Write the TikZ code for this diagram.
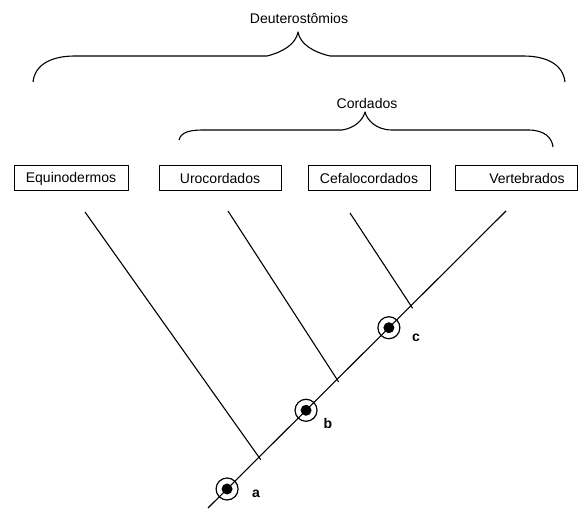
\documentclass[tikz,border=0pt]{standalone}
\usepackage{fontspec}
\setmainfont{Liberation Sans}
\usetikzlibrary{calc}
\begin{document}
\begin{tikzpicture}[x=1pt,y=-1pt,line width=1.1pt,
  taxon/.style={draw,line width=1pt,minimum height=25pt,inner sep=0pt,font=\fontsize{14}{16}\selectfont},
  lbl/.style={font=\fontsize{14}{16}\selectfont},
  tag/.style={font=\bfseries\fontsize{14}{16}\selectfont},
  brace/.style={line width=1.1pt,line join=round}]
\useasboundingbox (0,0) rectangle (578,510);
% taxa boxes
\node[taxon,minimum width=114pt] (equi) at (71,178.5) {Equinodermos};
\node[taxon,minimum width=122pt] (uro) at (220,178.5) {Urocordados};
\node[taxon,minimum width=122pt] (cefa) at (369,178.5) {Cefalocordados};
\node[taxon,minimum width=122pt] (vert) at (516,178.5) {\hspace*{22pt}Vertebrados};
% group labels
\node[lbl] (deut) at (299,18) {Deuterostômios};
\node[lbl] (cord) at (367,103) {Cordados};
% braces
\draw[brace] (33,82) .. controls (35,64) and (52,56) .. (75,56) -- (267,56)
  .. controls (283,52) and (296,44) .. (298,32)
  .. controls (300,44) and (313,52) .. (330,56) -- (523,56)
  .. controls (546,56) and (563,64) .. (565,82);
\draw[brace] (179,140) .. controls (181,132) and (190,130) .. (203,130) -- (342,130)
  .. controls (355,128) and (363,120) .. (365,112)
  .. controls (367,120) and (376,130) .. (392,130) -- (528,130)
  .. controls (545,130) and (552,138) .. (553,147);
% tree
\coordinate (root) at (208,508);
\coordinate (top) at (506,211);
\draw (root) -- (top);
\coordinate (j1) at ($(root)!0.171!(top)$);
\coordinate (j2) at ($(root)!0.433!(top)$);
\coordinate (j3) at ($(root)!0.681!(top)$);
\coordinate (t1) at (85,212);
\coordinate (t2) at (228,211);
\coordinate (t3) at (350,213);
\draw[shorten >=-3pt] (t1) -- (j1);
\draw[shorten >=-3pt] (t2) -- (j2);
\draw[shorten >=-3pt] (t3) -- (j3);
% synapomorphy marks
\foreach \n/\p in {a/0.064,b/0.329,c/0.607}{
  \coordinate (m\n) at ($(root)!\p!(top)$);
  \draw[line width=1.2pt] (m\n) circle (11pt);
  \fill (m\n) circle (5.5pt);
}
\node[tag] (la) at (256,494) {a};
\node[tag] (lb) at (328,423) {b};
\node[tag] (lc) at (416,338) {c};
\end{tikzpicture}
\end{document}
